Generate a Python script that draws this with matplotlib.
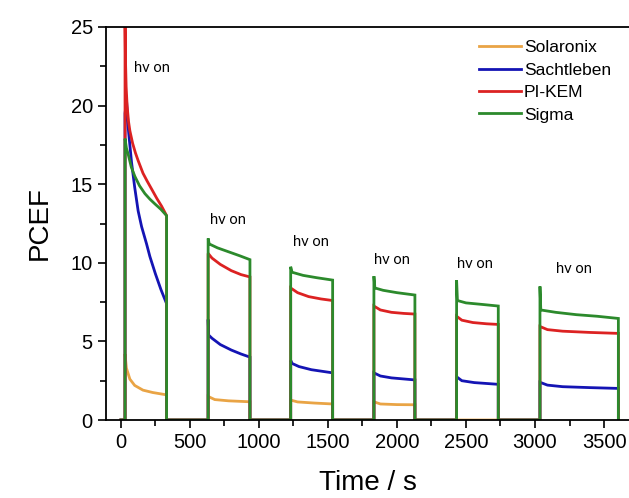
import matplotlib
matplotlib.use('Agg')
import matplotlib.pyplot as plt
from matplotlib.ticker import MultipleLocator

# light-on intervals (s)
t_on = [30, 632, 1230, 1833, 2432, 3036]
t_off = [331, 935, 1534, 2130, 2734, 3604]

# PCEF read from each illumination cycle: (times, values)
solaronix = [
    ([30, 40, 65, 100, 160, 230, 331], [4.2, 3.3, 2.6, 2.2, 1.9, 1.75, 1.6]),
    ([632, 680, 780, 935], [1.5, 1.3, 1.22, 1.16]),
    ([1230, 1280, 1400, 1534], [1.27, 1.15, 1.08, 1.02]),
    ([1833, 1880, 2000, 2130], [1.16, 1.02, 0.98, 0.97]),
]
sachtleben = [
    ([30, 41, 55, 77, 100, 125, 150, 186, 210, 250, 290, 331],
     [19.5, 20.3, 18.4, 16.4, 14.8, 13.3, 12.3, 11.2, 10.4, 9.3, 8.3, 7.4]),
    ([632, 636, 660, 720, 800, 870, 935], [6.4, 5.4, 5.2, 4.8, 4.45, 4.2, 4.0]),
    ([1230, 1240, 1290, 1380, 1534], [3.8, 3.6, 3.4, 3.2, 3.0]),
    ([1833, 1880, 1960, 2130], [3.0, 2.8, 2.68, 2.55]),
    ([2432, 2470, 2560, 2734], [2.75, 2.5, 2.38, 2.27]),
    ([3036, 3090, 3200, 3400, 3604], [2.4, 2.22, 2.12, 2.06, 2.01]),
]
pikem = [
    ([30, 33, 38, 45, 55, 65, 85, 105, 125, 160, 190, 222, 260, 295, 331],
     [25.5, 23.0, 21.2, 20.0, 19.0, 18.4, 17.6, 17.0, 16.5, 15.7, 15.2, 14.7, 14.1, 13.6, 13.0]),
    ([632, 660, 720, 800, 870, 935], [10.6, 10.3, 9.9, 9.5, 9.25, 9.1]),
    ([1230, 1280, 1360, 1450, 1534], [8.4, 8.1, 7.85, 7.7, 7.6]),
    ([1833, 1880, 1960, 2050, 2130], [7.25, 7.0, 6.85, 6.78, 6.74]),
    ([2432, 2470, 2550, 2650, 2734], [6.6, 6.35, 6.2, 6.12, 6.08]),
    ([3036, 3090, 3200, 3400, 3604], [5.95, 5.75, 5.65, 5.57, 5.51]),
]
sigma = [
    ([30, 40, 53, 75, 101, 135, 174, 210, 246, 290, 331],
     [17.9, 17.3, 16.9, 16.1, 15.5, 14.9, 14.4, 14.05, 13.75, 13.4, 13.0]),
    ([632, 640, 700, 780, 860, 935], [11.55, 11.2, 10.95, 10.7, 10.45, 10.2]),
    ([1230, 1240, 1320, 1420, 1534], [9.75, 9.4, 9.2, 9.05, 8.9]),
    ([1833, 1840, 1900, 2000, 2130], [9.15, 8.4, 8.25, 8.1, 7.95]),
    ([2432, 2438, 2500, 2620, 2734], [8.9, 7.6, 7.45, 7.35, 7.25]),
    ([3036, 3042, 3150, 3300, 3450, 3604], [8.5, 7.0, 6.85, 6.7, 6.6, 6.46]),
]

labels = ['Solaronix', 'Sachtleben', 'PI-KEM', 'Sigma']
colors = ['#E9A445', '#1414B4', '#DC2222', '#2C8A2C']

# "hv on" label positions (left edge, vertical centre)
ann_t = [97, 645, 1244, 1836, 2432, 3152]
ann_v = [22.4, 12.7, 11.3, 10.2, 9.9, 9.6]


def trace(cycles):
    # add the dark (zero) parts between the light-on cycles
    ts, vs = [0], [0]
    for t, v in cycles:
        ts += [t[0]] + list(t) + [t[-1]]
        vs += [0] + list(v) + [0]
    ts.append(t_on[-1] if len(cycles) < len(t_on) else t_off[-1])
    vs.append(0)
    return ts, vs


plt.rcParams['font.family'] = ['Liberation Sans', 'DejaVu Sans']

fig = plt.figure(figsize=(6.29, 4.98), dpi=100)
ax = fig.add_axes([0.1685, 0.1566, 0.8315, 0.7892])

for cyc, lab, col in zip([solaronix, sachtleben, pikem, sigma], labels, colors):
    x, y = trace(cyc)
    ax.plot(x, y, color=col, lw=2.0, label=lab, solid_joinstyle='miter')

for t, v in zip(ann_t, ann_v):
    ax.text(t, v, 'hv on', fontsize=10.5, family=['Lato', 'DejaVu Sans'],
            ha='left', va='center')

ax.set_xlim(-108, 3681)
ax.set_ylim(0, 25)
ax.xaxis.set_major_locator(MultipleLocator(500))
ax.xaxis.set_minor_locator(MultipleLocator(250))
ax.yaxis.set_major_locator(MultipleLocator(5))
ax.yaxis.set_minor_locator(MultipleLocator(2.5))
ax.tick_params(which='major', direction='out', length=6, width=1.2, labelsize=14.5)
ax.tick_params(which='minor', direction='out', length=4, width=1.2)
ax.spines['right'].set_visible(False)
for s in ['left', 'bottom', 'top']:
    ax.spines[s].set_linewidth(1.3)

ax.set_xlabel('Time / s', fontsize=20, labelpad=13)
ax.set_ylabel('PCEF', fontsize=20, labelpad=13)

ax.legend(loc='upper right', bbox_to_anchor=(0.985, 0.937), bbox_transform=fig.transFigure,
          frameon=False, fontsize=12.5, handlelength=2.4, handletextpad=0.15,
          labelspacing=0.42, borderpad=0)

fig.savefig('out.png', dpi=100)
